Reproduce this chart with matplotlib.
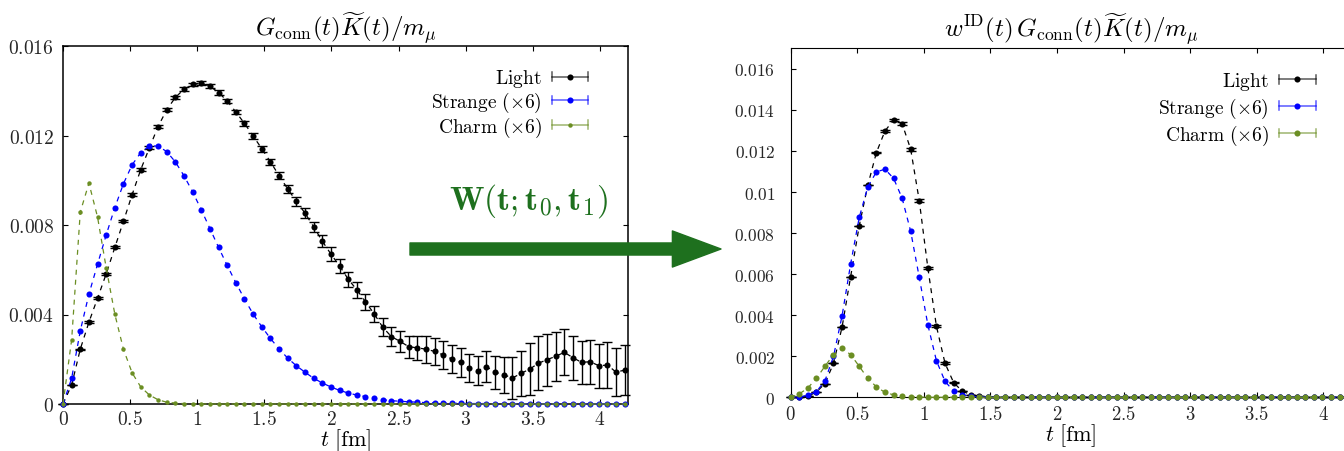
import numpy as np
import matplotlib
matplotlib.use("Agg")
import matplotlib.pyplot as plt
from matplotlib.container import ErrorbarContainer
from matplotlib.legend_handler import HandlerBase
from matplotlib.lines import Line2D
from matplotlib.patches import FancyArrowPatch
from matplotlib.ticker import FuncFormatter, MultipleLocator

plt.rcParams["mathtext.fontset"] = "cm"
plt.rcParams["font.family"] = "serif"
plt.rcParams["font.serif"] = ["cmr10", "DejaVu Serif"]
plt.rcParams["axes.formatter.use_mathtext"] = True

# time slices: t = n * a
a_fm = 0.0644
n_slices = 66

# G_conn(t) K(t) / m_mu, full t range
light = [0.0, 0.00085, 0.00245, 0.00366, 0.00473, 0.00582, 0.00700, 0.00817, 0.00936, 0.01048,
         0.01145, 0.01240, 0.01315, 0.01370, 0.01407, 0.01428, 0.01434, 0.01420, 0.01392, 0.01354,
         0.01305, 0.01254, 0.01198, 0.01141, 0.01082, 0.01021, 0.00961, 0.00906, 0.00853, 0.00792,
         0.00728, 0.00670, 0.00617, 0.00558, 0.00510, 0.00457, 0.00403, 0.00343, 0.00301, 0.00280,
         0.00256, 0.00251, 0.00245, 0.00235, 0.00219, 0.00201, 0.00186, 0.00161, 0.00149, 0.00167,
         0.00142, 0.00131, 0.00116, 0.00137, 0.00156, 0.00182, 0.00198, 0.00213, 0.00231, 0.00207,
         0.00186, 0.00189, 0.00171, 0.00174, 0.00142, 0.00152]
light_err = [0.0, 0.00002, 0.00003, 0.00003, 0.00004, 0.00004, 0.00005, 0.00005, 0.00005, 0.00006,
             0.00006, 0.00006, 0.00007, 0.00007, 0.00008, 0.00008, 0.00009, 0.00009, 0.00010, 0.00010,
             0.00011, 0.00012, 0.00012, 0.00013, 0.00014, 0.00015, 0.00018, 0.00019, 0.00022, 0.00022,
             0.00026, 0.00030, 0.00031, 0.00033, 0.00036, 0.00036, 0.00037, 0.00040, 0.00042, 0.00048,
             0.00050, 0.00053, 0.00060, 0.00062, 0.00062, 0.00064, 0.00065, 0.00063, 0.00064, 0.00068,
             0.00074, 0.00080, 0.00093, 0.00100, 0.00116, 0.00120, 0.00116, 0.00108, 0.00103, 0.00098,
             0.00097, 0.00098, 0.00098, 0.00104, 0.00107, 0.00110]
strange = [0.0, 0.00115, 0.00327, 0.00491, 0.00625, 0.00756, 0.00878, 0.00985, 0.01069, 0.01124,
           0.01153, 0.01153, 0.01128, 0.01082, 0.01020, 0.00948, 0.00868, 0.00784, 0.00700, 0.00619,
           0.00542, 0.00469, 0.00402, 0.00345, 0.00293, 0.00246, 0.00205, 0.00171, 0.00142, 0.00115,
           0.00094, 0.00076, 0.00061, 0.00049, 0.00040, 0.00033, 0.00025, 0.00019, 0.00015, 0.00012,
           0.00010, 0.00008, 0.00006, 0.00005, 0.00004, 0.00003, 0.00003, 0.00002, 0.00002, 0.00002,
           0.00001, 0.00001, 0.00001, 0.00001, 0.00001, 0.00001, 0.00001, 0.00001, 0.00001, 0.00001,
           0.00001, 0.00001, 0.00001, 0.00001, 0.00001, 0.00001]
charm = [0.0, 0.00287, 0.00858, 0.00987, 0.00835, 0.00608, 0.00401, 0.00244, 0.00139, 0.00076,
         0.00040, 0.00019, 0.00008, 0.00004, 0.00002, 0.00001] + [0.0] * 50

# intermediate-distance window applied
light_id = [0.0, 0.00001, 0.00005, 0.00025, 0.00067, 0.00165, 0.00342, 0.00588, 0.00835, 0.01033,
            0.01192, 0.01297, 0.01351, 0.01333, 0.01208, 0.00957, 0.00630, 0.00346, 0.00166, 0.00072,
            0.00030, 0.00013, 0.00005, 0.00002, 0.00001] + [0.0] * 41
light_id_err = [0.0] * 10 + [0.00004, 0.00005, 0.00006, 0.00007, 0.00008, 0.00008, 0.00007,
                             0.00005, 0.00004, 0.00002] + [0.0] * 46
strange_id = [0.0, 0.00001, 0.00010, 0.00027, 0.00080, 0.00199, 0.00397, 0.00650, 0.00876, 0.01025,
              0.01098, 0.01111, 0.01067, 0.00970, 0.00808, 0.00584, 0.00353, 0.00178, 0.00078, 0.00030,
              0.00013, 0.00005, 0.00002, 0.00001] + [0.0] * 42
charm_id = [0.0, 0.00016, 0.00045, 0.00092, 0.00151, 0.00208, 0.00238, 0.00208, 0.00151, 0.00092,
            0.00051, 0.00024, 0.00012, 0.00005, 0.00002, 0.00001] + [0.0] * 50

labels = [r"$\mathrm{Light}$", r"$\mathrm{Strange}\ (\times 6)$", r"$\mathrm{Charm}\ (\times 6)$"]
c_light, c_strange, c_charm = "black", "#0000ff", "#6b8e23"
c_arrow = "#1e701e"

t = np.arange(n_slices) * a_fm


class ErrKey(HandlerBase):
    """gnuplot-style key: bar with end caps and the point in the middle"""

    def create_artists(self, legend, orig_handle, xdescent, ydescent,
                       width, height, fontsize, trans):
        ln = orig_handle.lines[0]
        c = ln.get_color()
        y = (height - ydescent) / 2
        x0, x1 = -xdescent, width - xdescent
        cap = 0.22 * fontsize
        bar = Line2D([x0, x1], [y, y], color=c, lw=1.1, alpha=0.65)
        caps = Line2D([x0, x0, np.nan, x1, x1], [y - cap, y + cap, np.nan, y - cap, y + cap],
                      color=c, lw=1.1, alpha=0.65)
        dot = Line2D([(x0 + x1) / 2], [y], marker="o", ms=ln.get_markersize(),
                     mew=0, color=c, ls="none")
        for art in (bar, caps, dot):
            art.set_transform(trans)
        return [bar, caps, dot]


def series(ax, y, color, err=None, ms=4.4):
    cont = ax.errorbar(t, y, yerr=err, fmt="o", color=color, ms=ms,
                       ls=(0, (4, 4)), lw=0.9, ecolor=color, elinewidth=1.0,
                       capsize=3.4, capthick=1.0, clip_on=False)
    cont.lines[0].set_markeredgewidth(0)
    return cont


def key(ax, handles, anchor, spacing):
    return ax.legend(handles, labels, loc="upper right", bbox_to_anchor=anchor,
                     frameon=False, markerfirst=False, fontsize=14, handlelength=1.9,
                     handletextpad=0.5, labelspacing=spacing, borderpad=0,
                     borderaxespad=0, handler_map={ErrorbarContainer: ErrKey()})


fmt = FuncFormatter(lambda v, p: f"${v:g}$")

fig = plt.figure(figsize=(13.44, 4.52), dpi=100)
ax1 = fig.add_axes([63 / 1344, 47 / 452, 565 / 1344, 358 / 452])
ax2 = fig.add_axes([790.6 / 1344, 53.7 / 452, 560.8 / 1344, 349 / 452])

# left: full correlator
h1 = [series(ax1, light, c_light, light_err),
      series(ax1, strange, c_strange),
      series(ax1, charm, c_charm, ms=3.2)]
ax1.set_xlim(0, 4.21)
ax1.set_ylim(0, 0.016)
ax1.yaxis.set_major_locator(MultipleLocator(0.004))
ax1.set_title(r"$G_{\mathrm{conn}}(t)\widetilde{K}(t)/m_\mu$", fontsize=18, pad=8)
ax1.tick_params(labelsize=14)
ax1.tick_params(axis="y", pad=6.5)
ax1.tick_params(axis="x", pad=4.5)
key(ax1, h1, (0.93, 0.94), 0.02)

# right: windowed correlator
h2 = [series(ax2, light_id, c_light, light_id_err),
      series(ax2, strange_id, c_strange),
      series(ax2, charm_id, c_charm)]
ax2.set_xlim(0, 4.21)
ax2.set_ylim(0, 0.017)
ax2.yaxis.set_major_locator(MultipleLocator(0.002))
ax2.set_title(r"$w^{\mathrm{ID}}(t)\,G_{\mathrm{conn}}(t)\widetilde{K}(t)/m_\mu$", fontsize=18, pad=9)
ax2.tick_params(axis="y", labelsize=12.5, pad=11)
ax2.tick_params(axis="x", labelsize=13.5, pad=5.5)
key(ax2, h2, (0.936, 0.937), 0.16)

for ax, lw in ((ax1, 1.1), (ax2, 0.8)):
    ax.xaxis.set_major_locator(MultipleLocator(0.5))
    ax.xaxis.set_major_formatter(fmt)
    ax.yaxis.set_major_formatter(fmt)
    ax.tick_params(direction="in", top=True, right=True, length=3.8, width=0.8,
                   labelcolor="#262626")
    for s in ax.spines.values():
        s.set_linewidth(lw)
        s.set_zorder(0.5)
    ax.set_xlabel(r"$t\ [\mathrm{fm}]$", fontsize=16, labelpad=-1.5)

# weight function arrow between the panels
fig.add_artist(FancyArrowPatch((410 / 1344, 1 - 250 / 452), (721 / 1344, 1 - 250 / 452),
                               transform=fig.transFigure, mutation_scale=10,
                               arrowstyle="simple,head_length=3.5,head_width=2.6,tail_width=0.87",
                               color=c_arrow, shrinkA=0, shrinkB=0, zorder=5))
fig.text(529 / 1344, 1 - 201 / 452, r"$\mathbf{W(t;t_{\mathbf{0}},t_{\mathbf{1}})}$",
         ha="center", va="center", fontsize=24, color=c_arrow)

fig.savefig("out.png", dpi=100)
